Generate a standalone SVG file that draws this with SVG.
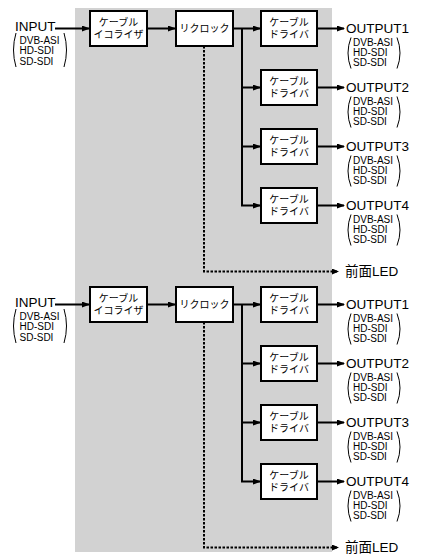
<svg xmlns="http://www.w3.org/2000/svg" width="430" height="560" viewBox="0 0 430 560">
<style>
.bg{fill:#d2d2d2}
.box{fill:#fff;stroke:#000;stroke-width:2}
.ln{fill:none;stroke:#000;stroke-width:2}
.dot{fill:none;stroke:#000;stroke-width:2;stroke-dasharray:2.5 1.5}
.par{fill:none;stroke:#000;stroke-width:1}
.big{font-family:"Liberation Sans","Noto Sans CJK JP",sans-serif;font-size:13.5px;fill:#000}
.sm{font-family:"Liberation Sans",sans-serif;font-size:10px;fill:#000}
.jp{font-family:"Liberation Sans","Noto Sans CJK JP",sans-serif;font-size:10px;fill:#000;text-anchor:middle}
</style>
<defs>
<marker id="ah" markerUnits="userSpaceOnUse" viewBox="0 0 8 6" markerWidth="8" markerHeight="6" refX="7" refY="3" orient="auto"><path d="M0,0 L8,3 L0,6 z" fill="#000"/></marker>
<marker id="ahs" markerUnits="userSpaceOnUse" viewBox="0 0 7 6" markerWidth="7" markerHeight="6" refX="6" refY="3" orient="auto"><path d="M0,0 L7,3 L0,6 z" fill="#000"/></marker>
</defs>
<rect class="bg" x="75" y="8" width="257" height="544"/>

<g id="block1">
<g id="connectors1">
<path class="ln" d="M55,28.5 H89" marker-end="url(#ah)"/>
<path class="ln" d="M147,28.5 H175" marker-end="url(#ah)"/>
<path class="ln" d="M233,28.5 H260" marker-end="url(#ah)"/>
<path class="ln" d="M242,28.5 V205.5"/>
<path class="ln" d="M241,87.5 H260" marker-end="url(#ah)"/>
<path class="ln" d="M241,146.5 H260" marker-end="url(#ah)"/>
<path class="ln" d="M241,205.5 H260" marker-end="url(#ah)"/>
<path class="ln" d="M317,28.5 H344" marker-end="url(#ah)"/>
<path class="ln" d="M317,87.5 H344" marker-end="url(#ah)"/>
<path class="ln" d="M317,146.5 H344" marker-end="url(#ah)"/>
<path class="ln" d="M317,205.5 H344" marker-end="url(#ah)"/>
<path class="dot" d="M204,46 V271.5 H338" marker-end="url(#ahs)"/>
</g>
<g id="input1">
<text class="big" x="15" y="30.5">INPUT</text>
<path class="par" d="M16,33 Q11,50 16,67"/><path class="par" d="M64,33 Q69,50 64,67"/>
<text class="sm" x="19.5" y="43.5">DVB-ASI</text><text class="sm" x="19.5" y="54">HD-SDI</text><text class="sm" x="19.5" y="64.5">SD-SDI</text>
</g>
<g id="eq1"><rect class="box" x="90" y="11" width="57" height="35"/><text class="jp" x="118.5" y="26">ケーブル</text><text class="jp" x="118.5" y="38">イコライザ</text></g>
<g id="reclock1"><rect class="box" x="176" y="11" width="57" height="35"/><text class="jp" x="204.5" y="32">リクロック</text></g>
<g id="drv1a"><rect class="box" x="261" y="11" width="56" height="35"/><text class="jp" x="289" y="26">ケーブル</text><text class="jp" x="289" y="38">ドライバ</text></g>
<g id="drv1b"><rect class="box" x="261" y="70" width="56" height="35"/><text class="jp" x="289" y="85">ケーブル</text><text class="jp" x="289" y="97">ドライバ</text></g>
<g id="drv1c"><rect class="box" x="261" y="129" width="56" height="35"/><text class="jp" x="289" y="144">ケーブル</text><text class="jp" x="289" y="156">ドライバ</text></g>
<g id="drv1d"><rect class="box" x="261" y="188" width="56" height="35"/><text class="jp" x="289" y="203">ケーブル</text><text class="jp" x="289" y="215">ドライバ</text></g>
<g id="out1a"><text class="big" x="346" y="33">OUTPUT1</text>
<path class="par" d="M351,37.5 Q345,53 351,68.5"/><path class="par" d="M397,37.5 Q403,53 397,68.5"/>
<text class="sm" x="353" y="45.5">DVB-ASI</text><text class="sm" x="353" y="55.5">HD-SDI</text><text class="sm" x="353" y="65.5">SD-SDI</text></g>
<g id="out1b"><text class="big" x="346" y="92">OUTPUT2</text>
<path class="par" d="M351,96.5 Q345,112 351,127.5"/><path class="par" d="M397,96.5 Q403,112 397,127.5"/>
<text class="sm" x="353" y="104.5">DVB-ASI</text><text class="sm" x="353" y="114.5">HD-SDI</text><text class="sm" x="353" y="124.5">SD-SDI</text></g>
<g id="out1c"><text class="big" x="346" y="151">OUTPUT3</text>
<path class="par" d="M351,155.5 Q345,171 351,186.5"/><path class="par" d="M397,155.5 Q403,171 397,186.5"/>
<text class="sm" x="353" y="163.5">DVB-ASI</text><text class="sm" x="353" y="173.5">HD-SDI</text><text class="sm" x="353" y="183.5">SD-SDI</text></g>
<g id="out1d"><text class="big" x="346" y="210">OUTPUT4</text>
<path class="par" d="M351,214.5 Q345,230 351,245.5"/><path class="par" d="M397,214.5 Q403,230 397,245.5"/>
<text class="sm" x="353" y="222.5">DVB-ASI</text><text class="sm" x="353" y="232.5">HD-SDI</text><text class="sm" x="353" y="242.5">SD-SDI</text></g>
<g id="led1"><text class="big" x="345" y="276">前面LED</text></g>
</g>

<g id="block2" transform="translate(0,276)">
<g id="connectors2">
<path class="ln" d="M55,28.5 H89" marker-end="url(#ah)"/>
<path class="ln" d="M147,28.5 H175" marker-end="url(#ah)"/>
<path class="ln" d="M233,28.5 H260" marker-end="url(#ah)"/>
<path class="ln" d="M242,28.5 V205.5"/>
<path class="ln" d="M241,87.5 H260" marker-end="url(#ah)"/>
<path class="ln" d="M241,146.5 H260" marker-end="url(#ah)"/>
<path class="ln" d="M241,205.5 H260" marker-end="url(#ah)"/>
<path class="ln" d="M317,28.5 H344" marker-end="url(#ah)"/>
<path class="ln" d="M317,87.5 H344" marker-end="url(#ah)"/>
<path class="ln" d="M317,146.5 H344" marker-end="url(#ah)"/>
<path class="ln" d="M317,205.5 H344" marker-end="url(#ah)"/>
<path class="dot" d="M204,46 V271.5 H338" marker-end="url(#ahs)"/>
</g>
<g id="input2">
<text class="big" x="15" y="30.5">INPUT</text>
<path class="par" d="M16,33 Q11,50 16,67"/><path class="par" d="M64,33 Q69,50 64,67"/>
<text class="sm" x="19.5" y="43.5">DVB-ASI</text><text class="sm" x="19.5" y="54">HD-SDI</text><text class="sm" x="19.5" y="64.5">SD-SDI</text>
</g>
<g id="eq2"><rect class="box" x="90" y="11" width="57" height="35"/><text class="jp" x="118.5" y="26">ケーブル</text><text class="jp" x="118.5" y="38">イコライザ</text></g>
<g id="reclock2"><rect class="box" x="176" y="11" width="57" height="35"/><text class="jp" x="204.5" y="32">リクロック</text></g>
<g id="drv2a"><rect class="box" x="261" y="11" width="56" height="35"/><text class="jp" x="289" y="26">ケーブル</text><text class="jp" x="289" y="38">ドライバ</text></g>
<g id="drv2b"><rect class="box" x="261" y="70" width="56" height="35"/><text class="jp" x="289" y="85">ケーブル</text><text class="jp" x="289" y="97">ドライバ</text></g>
<g id="drv2c"><rect class="box" x="261" y="129" width="56" height="35"/><text class="jp" x="289" y="144">ケーブル</text><text class="jp" x="289" y="156">ドライバ</text></g>
<g id="drv2d"><rect class="box" x="261" y="188" width="56" height="35"/><text class="jp" x="289" y="203">ケーブル</text><text class="jp" x="289" y="215">ドライバ</text></g>
<g id="out2a"><text class="big" x="346" y="33">OUTPUT1</text>
<path class="par" d="M351,37.5 Q345,53 351,68.5"/><path class="par" d="M397,37.5 Q403,53 397,68.5"/>
<text class="sm" x="353" y="45.5">DVB-ASI</text><text class="sm" x="353" y="55.5">HD-SDI</text><text class="sm" x="353" y="65.5">SD-SDI</text></g>
<g id="out2b"><text class="big" x="346" y="92">OUTPUT2</text>
<path class="par" d="M351,96.5 Q345,112 351,127.5"/><path class="par" d="M397,96.5 Q403,112 397,127.5"/>
<text class="sm" x="353" y="104.5">DVB-ASI</text><text class="sm" x="353" y="114.5">HD-SDI</text><text class="sm" x="353" y="124.5">SD-SDI</text></g>
<g id="out2c"><text class="big" x="346" y="151">OUTPUT3</text>
<path class="par" d="M351,155.5 Q345,171 351,186.5"/><path class="par" d="M397,155.5 Q403,171 397,186.5"/>
<text class="sm" x="353" y="163.5">DVB-ASI</text><text class="sm" x="353" y="173.5">HD-SDI</text><text class="sm" x="353" y="183.5">SD-SDI</text></g>
<g id="out2d"><text class="big" x="346" y="210">OUTPUT4</text>
<path class="par" d="M351,214.5 Q345,230 351,245.5"/><path class="par" d="M397,214.5 Q403,230 397,245.5"/>
<text class="sm" x="353" y="222.5">DVB-ASI</text><text class="sm" x="353" y="232.5">HD-SDI</text><text class="sm" x="353" y="242.5">SD-SDI</text></g>
<g id="led2"><text class="big" x="345" y="276">前面LED</text></g>
</g>
</svg>
